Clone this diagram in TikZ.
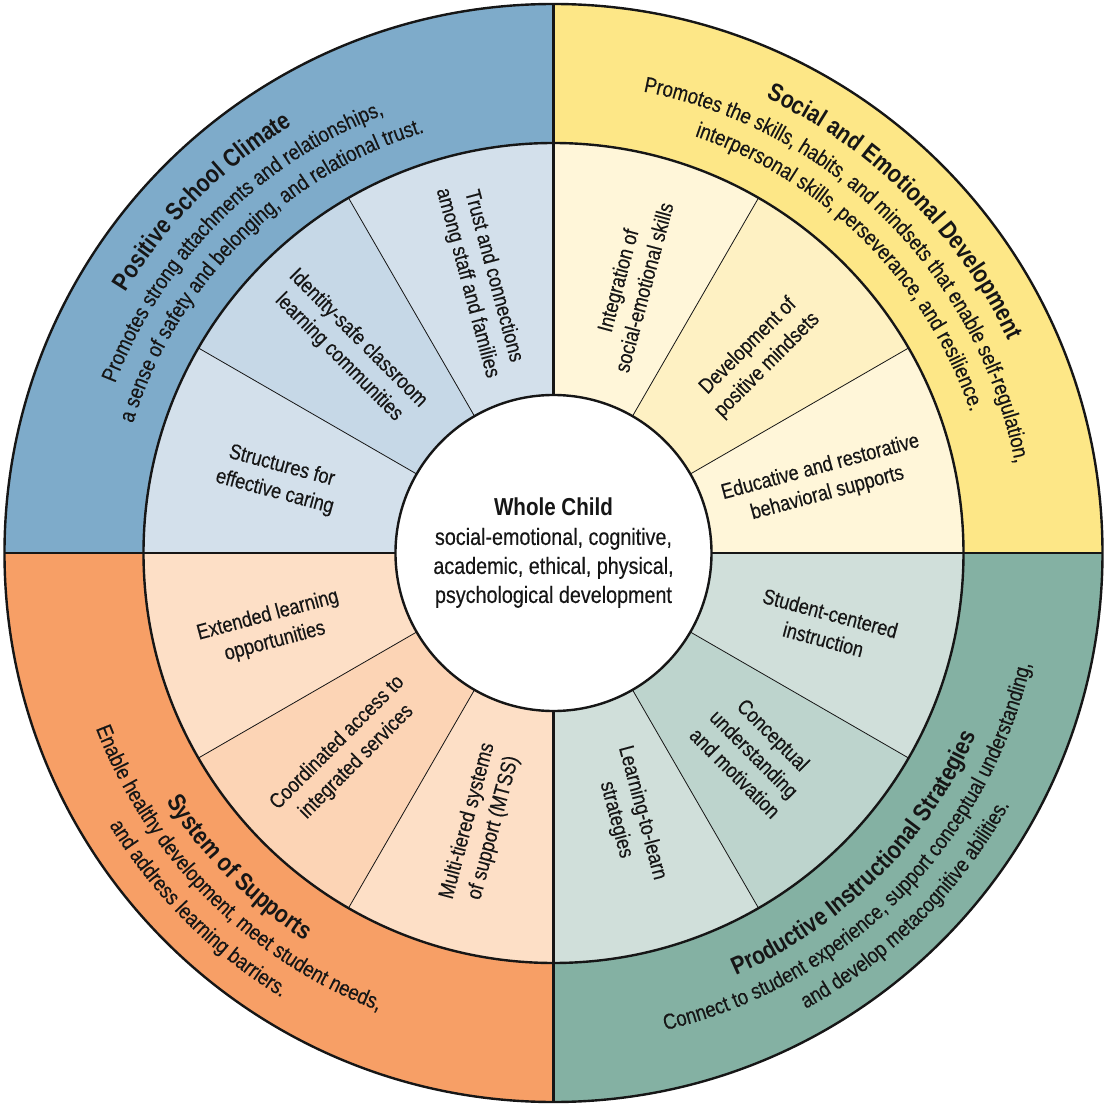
\documentclass[tikz,border=0pt]{standalone}
\usepackage{fontspec}
\setmainfont{Liberation Sans}[FakeStretch=0.84, UprightFeatures={FakeBold=0.3}]
\usetikzlibrary{decorations.text}
\definecolor{blueO}{HTML}{7EABCA}
\definecolor{blueA}{HTML}{D3E0EB}
\definecolor{blueB}{HTML}{C6D8E7}
\definecolor{yelO}{HTML}{FDE787}
\definecolor{yelA}{HTML}{FFF6D9}
\definecolor{yelB}{HTML}{FEF1C3}
\definecolor{grnO}{HTML}{84B1A3}
\definecolor{grnA}{HTML}{D0DFDA}
\definecolor{grnB}{HTML}{BDD4CD}
\definecolor{orgO}{HTML}{F79F66}
\definecolor{orgA}{HTML}{FDDFC6}
\definecolor{orgB}{HTML}{FCD4B5}
\definecolor{ink}{HTML}{161616}
\newcommand{\ttlf}{\fontsize{25}{30}\selectfont\bfseries}
\newcommand{\subf}{\fontsize{22}{27}\selectfont}
\tikzset{
  ringtext/.style={align=center, text=ink, font=\fontsize{21.5}{27}\selectfont},
  heavyline/.style={line width=2.4pt, draw=ink},
  lightline/.style={line width=0.8pt, draw=ink},
  curvetxt/.style={decorate, decoration={text along path, text align=center, text color=ink, text={#1}}},
}
\begin{document}
\begin{tikzpicture}[x=1pt,y=1pt]
\useasboundingbox (-553.5,-553) rectangle (551.5,553);
% outer quadrants
\fill[blueO] (0,0) -- (90:549pt) arc[start angle=90,end angle=180,radius=549pt] -- cycle;
\fill[yelO] (0,0) -- (0:549pt) arc[start angle=0,end angle=90,radius=549pt] -- cycle;
\fill[grnO] (0,0) -- (270:549pt) arc[start angle=270,end angle=360,radius=549pt] -- cycle;
\fill[orgO] (0,0) -- (180:549pt) arc[start angle=180,end angle=270,radius=549pt] -- cycle;
% inner sectors
\foreach \a/\c in {90/blueA,120/blueB,150/blueA,0/yelA,30/yelB,60/yelA,270/grnA,300/grnB,330/grnA,180/orgA,210/orgB,240/orgA}{
  \fill[\c] (0,0) -- (\a:410pt) arc[start angle=\a,end angle=\a+30,radius=410pt] -- cycle;
}
\fill[white] (0,0) circle[radius=158pt];
% thin dividers
\foreach \a in {30,60,120,150,210,240,300,330}{
  \draw[lightline] (\a:158pt) -- (\a:410pt);
}
% heavy lines
\foreach \a in {0,90,180,270}{
  \draw[heavyline] (\a:158pt) -- (\a:549pt);
}
\draw[heavyline] (0,0) circle[radius=549pt];
\draw[heavyline] (0,0) circle[radius=410pt];
\draw[heavyline] (0,0) circle[radius=158pt];
% centre text
\node[align=center, text=ink, font=\fontsize{23.5}{29}\selectfont] (wc) at (0,0)
  {{\fontsize{24.5}{29}\selectfont\bfseries Whole Child}\\social-emotional, cognitive,\\academic, ethical, physical,\\psychological development};
% inner ring texts
\node[ringtext, rotate=-75] (t1) at (105:283pt) {Trust and connections\\among staff and families};
\node[ringtext, rotate=-45] (t2) at (135:290pt) {Identity-safe classroom\\learning communities};
\node[ringtext, rotate=-15] (t3) at (165:285pt) {Structures for\\effective caring};
\node[ringtext, rotate=75] (t4) at (74:280pt) {Integration of\\social-emotional skills};
\node[ringtext, rotate=45] (t5) at (44:284pt) {Development of\\positive mindsets};
\node[ringtext, rotate=15] (t6) at (15:280pt) {Educative and restorative\\behavioral supports};
\node[ringtext, rotate=-15] (t7) at (-15:283pt) {Student-centered\\instruction};
\node[ringtext, rotate=-45] (t8) at (-45:284pt) {Conceptual\\understanding\\and motivation};
\node[ringtext, rotate=-75] (t9) at (-74:274pt) {Learning-to-learn\\strategies};
\node[ringtext, rotate=15] (t10) at (195:292pt) {Extended learning\\opportunities};
\node[ringtext, rotate=45] (t11) at (224:287pt) {Coordinated access to\\integrated services};
\node[ringtext, rotate=75] (t12) at (255:281pt) {Multi-tiered systems\\of support (MTSS)};
% outer curved texts: top-left
\path[curvetxt={|\ttlf|Positive School Climate}] (179:501pt) arc[start angle=179,end angle=91,radius=501pt];
\path[curvetxt={|\subf|Promotes strong attachments and relationships,}] (179:470pt) arc[start angle=179,end angle=91,radius=470pt];
\path[curvetxt={|\subf|a sense of safety and belonging, and relational trust.}] (179:440pt) arc[start angle=179,end angle=91,radius=440pt];
% top-right
\path[curvetxt={|\ttlf|Social and Emotional Development}] (89:502pt) arc[start angle=89,end angle=1,radius=502pt];
\path[curvetxt={|\subf|Promotes the skills, habits, and mindsets that enable self-regulation,}] (89:470pt) arc[start angle=89,end angle=1,radius=470pt];
\path[curvetxt={|\subf|interpersonal skills, perseverance, and resilience.}] (89:440pt) arc[start angle=89,end angle=1,radius=440pt];
% bottom-right
\path[curvetxt={|\ttlf|Productive Instructional Strategies}] (271:460pt) arc[start angle=271,end angle=359,radius=460pt];
\path[curvetxt={|\subf|Connect to student experience, support conceptual understanding,}] (271:490pt) arc[start angle=271,end angle=359,radius=490pt];
\path[curvetxt={|\subf|and develop metacognitive abilities.}] (271:521pt) arc[start angle=271,end angle=359,radius=521pt];
% bottom-left
\path[curvetxt={|\ttlf|System of Supports}] (181:460pt) arc[start angle=181,end angle=269,radius=460pt];
\path[curvetxt={|\subf|Enable healthy development, meet student needs,}] (181:490pt) arc[start angle=181,end angle=269,radius=490pt];
\path[curvetxt={|\subf|and address learning barriers.}] (181:521pt) arc[start angle=181,end angle=269,radius=521pt];
\end{tikzpicture}
\end{document}
